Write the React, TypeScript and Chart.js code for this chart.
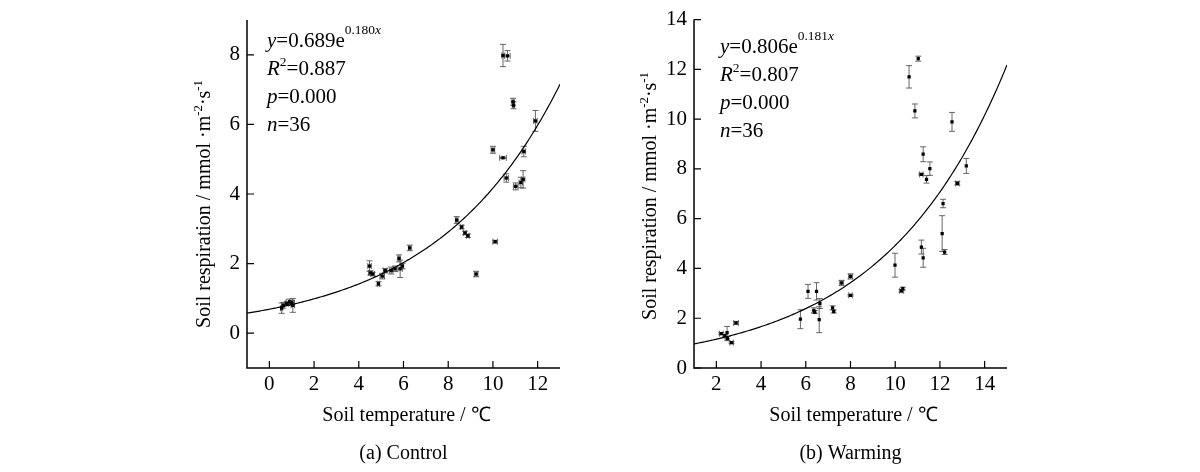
import { useEffect, useRef } from "react";
import { Chart, registerables } from "chart.js";

Chart.register(...registerables);

const SERIF = '"Liberation Serif", "Times New Roman", serif';

// (a) Control: soil temperature (°C) vs soil respiration
const ctrlTemp = [
  0.55, 0.62, 0.78, 0.9, 1.0, 1.05,
  4.48, 4.52, 4.62, 4.88, 5.05, 5.18, 5.45, 5.62, 5.8, 5.85, 5.95, 6.28,
  8.38, 8.6, 8.75, 8.88, 9.25, 10.1,
  10.0, 10.45, 10.45, 10.65, 10.6, 10.9, 10.92, 11.02, 11.25, 11.35, 11.38, 11.9,
];
const ctrlResp = [
  0.72, 0.8, 0.85, 0.9, 0.88, 0.8,
  1.93, 1.73, 1.7, 1.42, 1.64, 1.8, 1.8, 1.85, 2.15, 1.85, 1.93, 2.45,
  3.25, 3.05, 2.88, 2.8, 1.7, 2.63,
  5.27, 5.04, 7.98, 7.97, 4.46, 6.65, 6.55, 4.22, 4.33, 4.42, 5.22, 6.1,
];
const ctrlTempErr = [
  0.05, 0.05, 0.08, 0.15, 0.12, 0.08,
  0.08, 0.08, 0.08, 0.05, 0.1, 0.08, 0.08, 0.08, 0.05, 0.1, 0.06, 0.06,
  0.06, 0.06, 0.06, 0.06, 0.08, 0.1,
  0.08, 0.15, 0.05, 0.12, 0.1, 0.05, 0.05, 0.1, 0.08, 0.08, 0.08, 0.08,
];
const ctrlRespErr = [
  0.15, 0.08, 0.06, 0.08, 0.06, 0.2,
  0.15, 0.06, 0.05, 0.06, 0.08, 0.06, 0.1, 0.08, 0.1, 0.25, 0.08, 0.08,
  0.1, 0.05, 0.05, 0.05, 0.08, 0.04,
  0.1, 0.02, 0.32, 0.15, 0.12, 0.1, 0.1, 0.1, 0.15, 0.25, 0.15, 0.3,
];

// (b) Warming
const warmTemp = [
  2.22, 2.38, 2.48, 2.49, 2.68, 2.88,
  5.76, 6.1, 6.36, 6.4, 6.48, 6.6, 6.63, 7.2, 7.25, 7.6, 8.0, 8.0,
  9.99, 10.28, 10.34, 10.62, 10.88, 11.03, 11.17, 11.25, 11.17, 11.25, 11.4, 11.55,
  12.1, 12.14, 12.21, 12.54, 12.78, 13.18,
];
const warmResp = [
  1.38, 1.3, 1.42, 1.18, 1.02, 1.81,
  1.96, 3.08, 2.32, 2.25, 3.08, 1.94, 2.59, 2.42, 2.27, 3.42, 3.68, 2.92,
  4.13, 3.1, 3.19, 11.7, 10.33, 12.43, 4.86, 4.43, 7.78, 8.59, 7.58, 8.01,
  5.4, 6.61, 4.66, 9.89, 7.42, 8.12,
];
const warmTempErr = [
  0.08, 0, 0, 0, 0.08, 0.1,
  0, 0, 0, 0, 0, 0, 0, 0, 0, 0.08, 0.08, 0.08,
  0, 0.08, 0, 0, 0, 0, 0, 0, 0.08, 0, 0, 0,
  0, 0, 0, 0, 0.08, 0,
];
const warmRespErr = [
  0.04, 0.05, 0.25, 0.08, 0.04, 0.06,
  0.38, 0.28, 0.1, 0.06, 0.35, 0.52, 0.2, 0.08, 0.06, 0.1, 0.1, 0.03,
  0.48, 0.05, 0.06, 0.45, 0.28, 0.1, 0.28, 0.38, 0.03, 0.3, 0.15, 0.27,
  0.72, 0.17, 0.1, 0.38, 0.07, 0.3,
];

// fitted models stated on the chart: y = a * e^(b x)
const ctrlFit = { a: 0.689, b: 0.18 };
const warmFit = { a: 0.806, b: 0.181 };

const ctrlXTicks = [0, 2, 4, 6, 8, 10, 12];
const ctrlYTicks = [0, 2, 4, 6, 8];
const warmXTicks = [2, 4, 6, 8, 10, 12, 14];
const warmYTicks = [0, 2, 4, 6, 8, 10, 12, 14];

type Seg = { t: string; it?: boolean; sup?: boolean; rise?: number };

const ctrlStats: Seg[][] = [
  [
    { t: "y", it: true },
    { t: "=0.689e" },
    { t: "0.180", sup: true, rise: 0.64 },
    { t: "x", it: true, sup: true, rise: 0.64 },
  ],
  [{ t: "R", it: true }, { t: "2", sup: true }, { t: "=0.887" }],
  [{ t: "p", it: true }, { t: "=0.000" }],
  [{ t: "n", it: true }, { t: "=36" }],
];
const warmStats: Seg[][] = [
  [
    { t: "y", it: true },
    { t: "=0.806e" },
    { t: "0.181", sup: true, rise: 0.64 },
    { t: "x", it: true, sup: true, rise: 0.64 },
  ],
  [{ t: "R", it: true }, { t: "2", sup: true }, { t: "=0.807" }],
  [{ t: "p", it: true }, { t: "=0.000" }],
  [{ t: "n", it: true }, { t: "=36" }],
];

const yTitle: Seg[] = [
  { t: "Soil respiration / mmol ·m" },
  { t: "-2", sup: true },
  { t: "·s" },
  { t: "-1", sup: true },
];
const xTitle = "Soil temperature / ℃";

function segFont(s: Seg, size: number) {
  const fs = s.sup ? size * 0.64 : size;
  return `${s.it ? "italic " : ""}${fs}px ${SERIF}`;
}

function richWidth(ctx: CanvasRenderingContext2D, segs: Seg[], size: number) {
  let w = 0;
  for (const s of segs) {
    ctx.font = segFont(s, size);
    w += ctx.measureText(s.t).width;
  }
  return w;
}

function drawRich(ctx: CanvasRenderingContext2D, segs: Seg[], x: number, y: number, size: number) {
  let cx = x;
  for (const s of segs) {
    ctx.font = segFont(s, size);
    const up = s.sup ? size * (s.rise ?? 0.42) : 0;
    ctx.fillText(s.t, cx, y - up);
    cx += ctx.measureText(s.t).width;
  }
}

type PanelProps = {
  left: number;
  temp: number[];
  resp: number[];
  tempErr: number[];
  respErr: number[];
  fit: { a: number; b: number };
  xMin: number;
  xMax: number;
  yMin: number;
  yMax: number;
  xTicks: number[];
  yTicks: number[];
  stats: Seg[][];
  statsX: number;
  statsY: number;
  caption: string;
  areaLeft: number;
  areaRight: number;
  areaTop: number;
  yTitleX: number;
  yTitleY: number;
};

const W = 450;
const H = 472;
const AREA_BOTTOM = 368;

function Panel(p: PanelProps) {
  const ref = useRef<HTMLCanvasElement | null>(null);

  useEffect(() => {
    if (!ref.current) return;

    const decor = {
      id: "decor",
      beforeDatasetsDraw(chart: any) {
        const ctx = chart.ctx as CanvasRenderingContext2D;
        const xs = chart.scales.x;
        const ys = chart.scales.y;
        const a = chart.chartArea;
        ctx.save();

        // error bars
        ctx.strokeStyle = "#555";
        ctx.lineWidth = 0.9;
        const cap = 3;
        p.temp.forEach((t, i) => {
          const px = xs.getPixelForValue(t);
          const py = ys.getPixelForValue(p.resp[i]);
          const ye = p.respErr[i];
          const xe = p.tempErr[i];
          ctx.beginPath();
          if (ye > 0) {
            const y1 = ys.getPixelForValue(p.resp[i] + ye);
            const y2 = ys.getPixelForValue(p.resp[i] - ye);
            ctx.moveTo(px, y1);
            ctx.lineTo(px, y2);
            ctx.moveTo(px - cap, y1);
            ctx.lineTo(px + cap, y1);
            ctx.moveTo(px - cap, y2);
            ctx.lineTo(px + cap, y2);
          }
          if (xe > 0) {
            const x1 = xs.getPixelForValue(t - xe);
            const x2 = xs.getPixelForValue(t + xe);
            ctx.moveTo(x1, py);
            ctx.lineTo(x2, py);
            ctx.moveTo(x1, py - cap);
            ctx.lineTo(x1, py + cap);
            ctx.moveTo(x2, py - cap);
            ctx.lineTo(x2, py + cap);
          }
          ctx.stroke();
        });

        // fitted curve
        ctx.beginPath();
        ctx.rect(a.left, a.top, a.right - a.left, a.bottom - a.top);
        ctx.clip();
        ctx.strokeStyle = "#000";
        ctx.lineWidth = 1.2;
        ctx.beginPath();
        const steps = 200;
        for (let k = 0; k <= steps; k++) {
          const xv = p.xMin + ((p.xMax - p.xMin) * k) / steps;
          const yv = p.fit.a * Math.exp(p.fit.b * xv);
          const px = xs.getPixelForValue(xv);
          const py = ys.getPixelForValue(yv);
          if (k === 0) ctx.moveTo(px, py);
          else ctx.lineTo(px, py);
        }
        ctx.stroke();
        ctx.restore();
      },
      afterDraw(chart: any) {
        const ctx = chart.ctx as CanvasRenderingContext2D;
        const xs = chart.scales.x;
        const ys = chart.scales.y;
        const a = chart.chartArea;
        ctx.save();
        ctx.strokeStyle = "#000";
        ctx.lineWidth = 1.5;
        ctx.beginPath();
        ctx.moveTo(a.left, a.top);
        ctx.lineTo(a.left, a.bottom);
        ctx.lineTo(a.right, a.bottom);
        ctx.stroke();

        ctx.lineWidth = 1.2;
        ctx.beginPath();
        p.xTicks.forEach((v) => {
          const px = xs.getPixelForValue(v);
          ctx.moveTo(px, a.bottom);
          ctx.lineTo(px, a.bottom - 7);
        });
        p.yTicks.forEach((v) => {
          const py = ys.getPixelForValue(v);
          ctx.moveTo(a.left, py);
          ctx.lineTo(a.left + 7, py);
        });
        ctx.stroke();

        ctx.fillStyle = "#000";
        ctx.textBaseline = "alphabetic";
        ctx.textAlign = "left";
        p.stats.forEach((line, i) => {
          drawRich(ctx, line, p.statsX, p.statsY + i * 28, 21);
        });

        // y title
        const tw = richWidth(ctx, yTitle, 20);
        ctx.save();
        ctx.translate(p.yTitleX, p.yTitleY);
        ctx.rotate(-Math.PI / 2);
        drawRich(ctx, yTitle, -tw / 2, 7, 20);
        ctx.restore();

        const cx = (a.left + a.right) / 2;
        ctx.textAlign = "center";
        ctx.font = `20px ${SERIF}`;
        ctx.fillText(xTitle, cx + 3, 421);
        ctx.fillText(p.caption, cx, 459);
        ctx.restore();
      },
    };

    const chart = new Chart(ref.current, {
      type: "scatter",
      data: {
        datasets: [
          {
            data: p.temp.map((t, i) => ({ x: t, y: p.resp[i] })),
            pointStyle: "rect",
            pointRadius: 2.3,
            pointBackgroundColor: "#000",
            pointBorderWidth: 0,
          },
        ],
      },
      options: {
        animation: false,
        responsive: false,
        devicePixelRatio: 1,
        layout: {
          padding: { left: 0, right: W - p.areaRight, top: p.areaTop, bottom: 0 },
        },
        plugins: { legend: { display: false }, tooltip: { enabled: false } },
        scales: {
          x: {
            type: "linear",
            min: p.xMin,
            max: p.xMax,
            afterBuildTicks: (s: any) => {
              s.ticks = p.xTicks.map((v) => ({ value: v }));
            },
            afterFit: (s: any) => {
              s.height = H - AREA_BOTTOM;
            },
            grid: { display: false, drawTicks: false },
            border: { display: false },
            ticks: {
              color: "#000",
              font: { family: SERIF, size: 21 },
              padding: 4,
              maxRotation: 0,
              autoSkip: false,
            },
          },
          y: {
            type: "linear",
            min: p.yMin,
            max: p.yMax,
            afterBuildTicks: (s: any) => {
              s.ticks = p.yTicks.map((v) => ({ value: v }));
            },
            afterFit: (s: any) => {
              s.width = p.areaLeft;
            },
            grid: { display: false, drawTicks: false },
            border: { display: false },
            ticks: {
              color: "#000",
              font: { family: SERIF, size: 21 },
              padding: 7,
              autoSkip: false,
            },
          },
        },
      } as any,
      plugins: [decor],
    });

    return () => {
      chart.destroy();
    };
  }, []);

  return (
    <canvas
      ref={ref}
      width={W}
      height={H}
      style={{ position: "absolute", left: p.left, top: 0, width: W, height: H }}
    />
  );
}

export default function App() {
  return (
    <div
      style={{
        position: "fixed",
        left: 0,
        top: 0,
        width: 1200,
        height: 472,
        background: "#fff",
        overflow: "hidden",
      }}
    >
      <Panel
        left={150}
        temp={ctrlTemp}
        resp={ctrlResp}
        tempErr={ctrlTempErr}
        respErr={ctrlRespErr}
        fit={ctrlFit}
        xMin={-1}
        xMax={13}
        yMin={-1}
        yMax={9}
        xTicks={ctrlXTicks}
        yTicks={ctrlYTicks}
        stats={ctrlStats}
        statsX={117}
        statsY={47}
        caption="(a) Control"
        areaLeft={97}
        areaRight={410}
        areaTop={20}
        yTitleX={53}
        yTitleY={204}
      />
      <Panel
        left={600}
        temp={warmTemp}
        resp={warmResp}
        tempErr={warmTempErr}
        respErr={warmRespErr}
        fit={warmFit}
        xMin={1}
        xMax={15}
        yMin={0}
        yMax={14}
        xTicks={warmXTicks}
        yTicks={warmYTicks}
        stats={warmStats}
        statsX={120}
        statsY={53}
        caption="(b) Warming"
        areaLeft={94}
        areaRight={407}
        areaTop={19}
        yTitleX={49}
        yTitleY={196}
      />
    </div>
  );
}
